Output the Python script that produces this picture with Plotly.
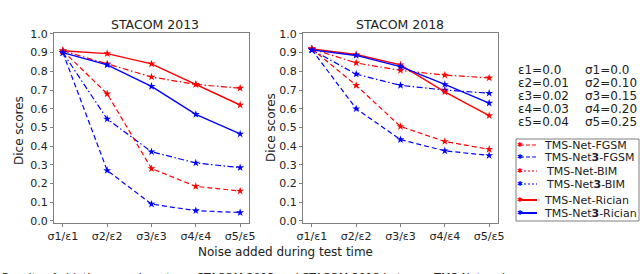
import plotly.graph_objects as go

W, H = 640, 274
categories = ["σ1/ε1", "σ2/ε2", "σ3/ε3", "σ4/ε4", "σ5/ε5"]

# STACOM 2013
s13_net_fgsm = [0.91, 0.84, 0.77, 0.73, 0.71]
s13_net3_fgsm = [0.90, 0.545, 0.37, 0.31, 0.285]
s13_net_bim = [0.91, 0.68, 0.28, 0.185, 0.16]
s13_net3_bim = [0.90, 0.27, 0.09, 0.055, 0.045]
s13_net_rician = [0.91, 0.895, 0.84, 0.73, 0.62]
s13_net3_rician = [0.90, 0.835, 0.72, 0.57, 0.465]

# STACOM 2018
s18_net_fgsm = [0.92, 0.845, 0.805, 0.78, 0.765]
s18_net3_fgsm = [0.915, 0.785, 0.725, 0.70, 0.683]
s18_net_bim = [0.92, 0.725, 0.505, 0.425, 0.383]
s18_net3_bim = [0.915, 0.60, 0.435, 0.375, 0.35]
s18_net_rician = [0.92, 0.89, 0.835, 0.69, 0.563]
s18_net3_rician = [0.915, 0.885, 0.825, 0.73, 0.63]

names = ["TMS-Net-FGSM", "TMS-Net<b>3</b>-FGSM", "TMS-Net-BIM",
         "TMS-Net<b>3</b>-BIM", "TMS-Net-Rician", "TMS-Net<b>3</b>-Rician"]
colors = ["#ff0000", "#0000ff"] * 3
dashes = ["6px,2.5px,1.5px,2.5px", "6px,2.5px,1.5px,2.5px", "5px,3px", "5px,3px", "solid", "solid"]
widths = [1.2, 1.2, 1.2, 1.2, 1.4, 1.4]
legend_dashes = ["4px,2px", "4px,2px", "2px,2px", "2px,2px", "solid", "solid"]

eps_labels = ["ε1=0.0", "ε2=0.01", "ε3=0.02", "ε4=0.03", "ε5=0.04"]
sig_labels = ["σ1=0.0", "σ2=0.10", "σ3=0.15", "σ4=0.20", "σ5=0.25"]

def px(x):
    return x / W

def py(y):
    return 1 - y / H

fig = go.Figure()
sets = [
    ([s13_net_fgsm, s13_net3_fgsm, s13_net_bim, s13_net3_bim, s13_net_rician, s13_net3_rician], "x", "y"),
    ([s18_net_fgsm, s18_net3_fgsm, s18_net_bim, s18_net3_bim, s18_net_rician, s18_net3_rician], "x2", "y2"),
]
for series, xa, ya in sets:
    for i, vals in enumerate(series):
        fig.add_trace(go.Scatter(
            x=categories, y=vals, xaxis=xa, yaxis=ya, name=names[i],
            mode="lines+markers", showlegend=False,
            line=dict(color=colors[i], dash=dashes[i], width=widths[i]),
            marker=dict(symbol="star", size=6, color=colors[i]),
        ))

font = dict(family="DejaVu Sans", size=11, color="#222222")
axis_common = dict(showline=True, linecolor="#7f7f7f", linewidth=1, mirror=True,
                   ticks="outside", ticklen=3, tickcolor="#7f7f7f", showgrid=False,
                   zeroline=False, automargin=False,
                   tickfont=dict(family="DejaVu Sans", size=11, color="#222222"))
yd = [py(223), py(33)]
fig.update_layout(
    width=W, height=H, margin=dict(l=0, r=0, t=0, b=0, pad=0, autoexpand=False), showlegend=False,
    paper_bgcolor="white", plot_bgcolor="white", font=font,
    xaxis=dict(domain=[px(54), px(249)], range=[-0.2, 4.2], anchor="y", **axis_common),
    yaxis=dict(domain=yd, range=[-0.011, 1.005], dtick=0.1, tickformat=".1f", anchor="x", **axis_common),
    xaxis2=dict(domain=[px(303), px(498)], range=[-0.2, 4.2], anchor="y2", **axis_common),
    yaxis2=dict(domain=yd, range=[-0.011, 1.005], dtick=0.1, tickformat=".1f", anchor="x2", **axis_common),
)

ann = []
shapes = []

def text(t, x, y, size=12, xanchor="center", yanchor="middle", angle=0, color="#222222"):
    ann.append(dict(text=t, x=px(x), y=py(y), xref="paper", yref="paper",
                    xanchor=xanchor, yanchor=yanchor, textangle=angle, showarrow=False,
                    font=dict(family="DejaVu Sans", size=size, color=color)))

text("STACOM 2013", 155, 24, size=12.5)
text("STACOM 2018", 400, 24, size=12.5)
text("Dice scores", 19, 131, angle=-90)
text("Dice scores", 271, 128, angle=-90)
text("Noise added during test time", 285, 252)
for i in range(5):
    text(eps_labels[i], 516, 70 + 13 * i, xanchor="left")
    text(sig_labels[i], 583, 70 + 13 * i, xanchor="left")

# legend box (drawn manually to match compact spacing)
shapes.append(dict(type="rect", xref="paper", yref="paper", x0=px(516), x1=px(639),
                   y0=py(221), y1=py(139), line=dict(color="#7f7f7f", width=1),
                   fillcolor="white", layer="below"))
row_y = [145, 157, 171, 184, 200, 213]
for i in range(6):
    yy = py(row_y[i])
    shapes.append(dict(type="line", xref="paper", yref="paper", x0=px(520), x1=px(537),
                       y0=yy, y1=yy, line=dict(color=colors[i], dash=legend_dashes[i],
                                               width=2 if i >= 4 else 1.2)))
    text("✱", 520, row_y[i], size=7, color=colors[i])
    text(names[i], 544 if i in (2, 3) else 542, row_y[i], size=11, xanchor="left")

text("Results of ablation experiments on STACOM 2013 and STACOM 2018 between TMS-Net and",
     0, 268.5, size=11, xanchor="left", yanchor="top")
fig.update_layout(annotations=ann, shapes=shapes)

fig.write_html("out.html", config={"displayModeBar": False},
               post_script="document.body.style.margin='0';document.body.style.overflow='hidden';")
